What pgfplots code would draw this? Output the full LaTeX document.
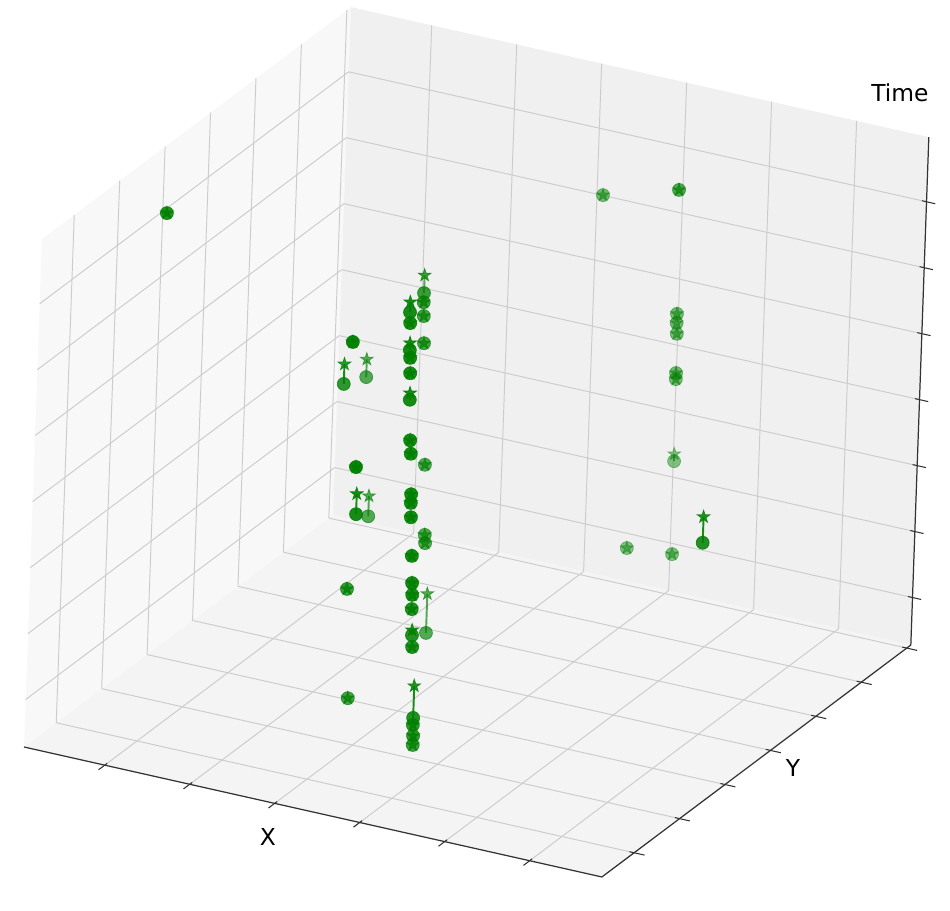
\documentclass[border=0pt]{standalone}
\usepackage{fontspec}
\setmainfont{DejaVu Sans}
\usepackage{pgfplots}
\usepackage{pgfplotstable}
\pgfplotsset{compat=1.18}

\definecolor{mplgreen}{HTML}{008000}
\definecolor{paneX}{HTML}{F8F8F8}
\definecolor{paneY}{HTML}{F0F0F0}
\definecolor{paneZ}{HTML}{F4F4F4}
\definecolor{gridgray}{HTML}{CCCCCC}

% filled five-pointed star like matplotlib's '*'
\pgfdeclareplotmark{mplstar}{%
  \pgfpathmoveto{\pgfpointpolar{90}{\pgfplotmarksize}}%
  \pgfpathlineto{\pgfpointpolar{126}{0.382\pgfplotmarksize}}%
  \pgfpathlineto{\pgfpointpolar{162}{\pgfplotmarksize}}%
  \pgfpathlineto{\pgfpointpolar{198}{0.382\pgfplotmarksize}}%
  \pgfpathlineto{\pgfpointpolar{234}{\pgfplotmarksize}}%
  \pgfpathlineto{\pgfpointpolar{270}{0.382\pgfplotmarksize}}%
  \pgfpathlineto{\pgfpointpolar{306}{\pgfplotmarksize}}%
  \pgfpathlineto{\pgfpointpolar{342}{0.382\pgfplotmarksize}}%
  \pgfpathlineto{\pgfpointpolar{18}{\pgfplotmarksize}}%
  \pgfpathlineto{\pgfpointpolar{54}{0.382\pgfplotmarksize}}%
  \pgfpathclose
  \pgfusepathqfillstroke
}

% events: x, y, start time (circle), end time (star), shade
\pgfplotstableread{
x y zc zs a
0.533 0.2 0.901 0.921 0.9
0.534 0.2 0.880 0.880 0.9
0.535 0.2 0.827 0.841 0.9
0.536 0.2 0.812 0.812 0.9
0.537 0.2 0.782 0.782 0.9
0.538 0.2 0.730 0.743 0.9
0.541 0.2 0.651 0.651 0.9
0.543 0.2 0.625 0.625 0.9
0.546 0.2 0.546 0.546 0.9
0.546 0.2 0.529 0.529 0.9
0.547 0.2 0.501 0.501 0.9
0.551 0.2 0.426 0.426 0.9
0.553 0.2 0.373 0.373 0.9
0.554 0.2 0.350 0.350 0.9
0.554 0.2 0.322 0.322 0.85
0.556 0.2 0.271 0.281 0.85
0.557 0.2 0.248 0.248 0.85
0.563 0.2 0.110 0.173 0.85
0.563 0.2 0.096 0.096 0.8
0.564 0.2 0.075 0.075 0.8
0.564 0.2 0.057 0.057 0.75
0.401 0.5 0.768 0.803 0.75
0.401 0.5 0.750 0.750 0.75
0.402 0.5 0.723 0.723 0.7
0.404 0.5 0.670 0.670 0.7
0.413 0.5 0.433 0.433 0.65
0.417 0.5 0.296 0.296 0.65
0.418 0.5 0.280 0.280 0.65
0.425 0.5 0.105 0.182 0.65
0.385 0.3 0.759 0.759 0.95
0.372 0.3 0.673 0.712 0.8
0.398 0.3 0.516 0.516 0.95
0.401 0.3 0.424 0.464 0.9
0.390 0.3 0.274 0.274 0.75
0.398 0.3 0.061 0.061 0.7
0.281 0.55 0.549 0.584 0.65
0.293 0.55 0.278 0.318 0.65
0.058 0.3 0.929 0.929 0.85
0.626 0.9 0.846 0.846 0.65
0.630 0.9 0.603 0.603 0.5
0.630 0.9 0.585 0.585 0.5
0.631 0.9 0.564 0.564 0.5
0.632 0.9 0.487 0.487 0.5
0.632 0.9 0.475 0.475 0.5
0.634 0.9 0.314 0.328 0.45
0.470 0.95 0.773 0.773 0.5
0.584 0.85 0.153 0.153 0.45
0.662 0.85 0.161 0.161 0.45
0.972 0.35 0.491 0.542 0.85
}\events

\begin{document}
\begin{tikzpicture}
\begin{axis}[
  set layers,
  x={(11.56cm,-2.6cm)}, y={(6.18cm,4.64cm)}, z={(0.36cm,10.16cm)},
  xmin=0, xmax=1, ymin=0, ymax=1, zmin=0, zmax=1,
  xtick={0.1397,0.2868,0.4338,0.5809,0.7279,0.8750},
  ytick={0.1044,0.2515,0.3985,0.5456,0.6926,0.8397,0.9868},
  ztick={0.0935,0.2234,0.3532,0.4831,0.6130,0.7429,0.8727},
  xticklabels={}, yticklabels={}, zticklabels={},
  major tick length=0pt,
  grid=major,
  major grid style={draw=gridgray, line width=0.55pt},
  axis line style={draw=none},
  clip=false,
]
% panes
\addplot3[on layer=axis background, draw=none, fill=paneX] coordinates {(0,0,0) (0,1,0) (0,1,1) (0,0,1)} -- cycle;
\addplot3[on layer=axis background, draw=none, fill=paneY] coordinates {(0,1,0) (1,1,0) (1,1,1) (0,1,1)} -- cycle;
\addplot3[on layer=axis background, draw=none, fill=paneZ] coordinates {(0,0,0) (1,0,0) (1,1,0) (0,1,0)} -- cycle;

% axis lines and ticks
\addplot3[black!80, line width=0.7pt] coordinates {(0,0,0) (1,0,0) (1,1,0) (1,1,1)};
\addplot3[black!80, line width=0.6pt, unbounded coords=jump] coordinates {
  (0.1397,-0.02,0) (0.1397,0.008,0) (nan,nan,nan)
  (0.2868,-0.02,0) (0.2868,0.008,0) (nan,nan,nan)
  (0.4338,-0.02,0) (0.4338,0.008,0) (nan,nan,nan)
  (0.5809,-0.02,0) (0.5809,0.008,0) (nan,nan,nan)
  (0.7279,-0.02,0) (0.7279,0.008,0) (nan,nan,nan)
  (0.8750,-0.02,0) (0.8750,0.008,0) (nan,nan,nan)
  (0.992,0.1044,0) (1.018,0.1044,0) (nan,nan,nan)
  (0.992,0.2515,0) (1.018,0.2515,0) (nan,nan,nan)
  (0.992,0.3985,0) (1.018,0.3985,0) (nan,nan,nan)
  (0.992,0.5456,0) (1.018,0.5456,0) (nan,nan,nan)
  (0.992,0.6926,0) (1.018,0.6926,0) (nan,nan,nan)
  (0.992,0.8397,0) (1.018,0.8397,0) (nan,nan,nan)
  (0.992,0.9868,0) (1.018,0.9868,0) (nan,nan,nan)
  (0.992,1,0.0935) (1.015,1,0.0935) (nan,nan,nan)
  (0.992,1,0.2234) (1.015,1,0.2234) (nan,nan,nan)
  (0.992,1,0.3532) (1.015,1,0.3532) (nan,nan,nan)
  (0.992,1,0.4831) (1.015,1,0.4831) (nan,nan,nan)
  (0.992,1,0.6130) (1.015,1,0.6130) (nan,nan,nan)
  (0.992,1,0.7429) (1.015,1,0.7429) (nan,nan,nan)
  (0.992,1,0.8727) (1.015,1,0.8727)
};

% duration lines from start to end
\addplot3[mplgreen, opacity=0.9, line width=1.1pt, unbounded coords=jump] coordinates {
  (0.533,0.2,0.901) (0.533,0.2,0.921) (nan,nan,nan)
  (0.535,0.2,0.827) (0.535,0.2,0.841) (nan,nan,nan)
  (0.538,0.2,0.730) (0.538,0.2,0.743) (nan,nan,nan)
  (0.556,0.2,0.271) (0.556,0.2,0.281) (nan,nan,nan)
  (0.563,0.2,0.110) (0.563,0.2,0.173) (nan,nan,nan)
  (0.401,0.3,0.424) (0.401,0.3,0.464) (nan,nan,nan)
  (0.372,0.3,0.673) (0.372,0.3,0.712) (nan,nan,nan)
  (0.972,0.35,0.491) (0.972,0.35,0.542)
};
\addplot3[mplgreen, opacity=0.65, line width=1.1pt, unbounded coords=jump] coordinates {
  (0.401,0.5,0.768) (0.401,0.5,0.803) (nan,nan,nan)
  (0.425,0.5,0.105) (0.425,0.5,0.182) (nan,nan,nan)
  (0.281,0.55,0.549) (0.281,0.55,0.584) (nan,nan,nan)
  (0.293,0.55,0.278) (0.293,0.55,0.318) (nan,nan,nan)
  (0.634,0.9,0.314) (0.634,0.9,0.328)
};

% start (circles) and end (stars), shaded by depth
\addplot3[scatter, only marks, mark=*, mark size=3.7pt, line width=0.4pt,
  draw=mplgreen, fill=mplgreen, point meta=\thisrow{a},
  visualization depends on={\thisrow{a} \as \alp},
  scatter/@pre marker code/.code={\pgfscope\pgfsetfillopacity{\alp}\pgfsetstrokeopacity{\alp}},
  scatter/@post marker code/.code={\endpgfscope}]
  table[x=x, y=y, z=zc] {\events};
\addplot3[scatter, only marks, mark=mplstar, mark size=3.8pt, line width=0.4pt,
  draw=mplgreen, fill=mplgreen, point meta=\thisrow{a},
  visualization depends on={\thisrow{a} \as \alp},
  scatter/@pre marker code/.code={\pgfscope\pgfsetfillopacity{\alp}\pgfsetstrokeopacity{\alp}},
  scatter/@post marker code/.code={\endpgfscope}]
  table[x=x, y=y, z=zs] {\events};

\coordinate (O) at (axis cs:0,0,0);
\end{axis}
\begin{scope}[shift={(O)}, x=0.02cm, y=-0.02cm, shift={(-24,-747)}]
  \node[font=\fontsize{13.3}{16}\selectfont] at (268,837) {X};
  \node[font=\fontsize{13.3}{16}\selectfont] at (793,768) {Y};
  \node[font=\fontsize{13.3}{16}\selectfont] at (900,93) {Time};
  \pgfresetboundingbox
  \useasboundingbox (0,0) rectangle (950,910);
\end{scope}
\end{tikzpicture}
\end{document}
